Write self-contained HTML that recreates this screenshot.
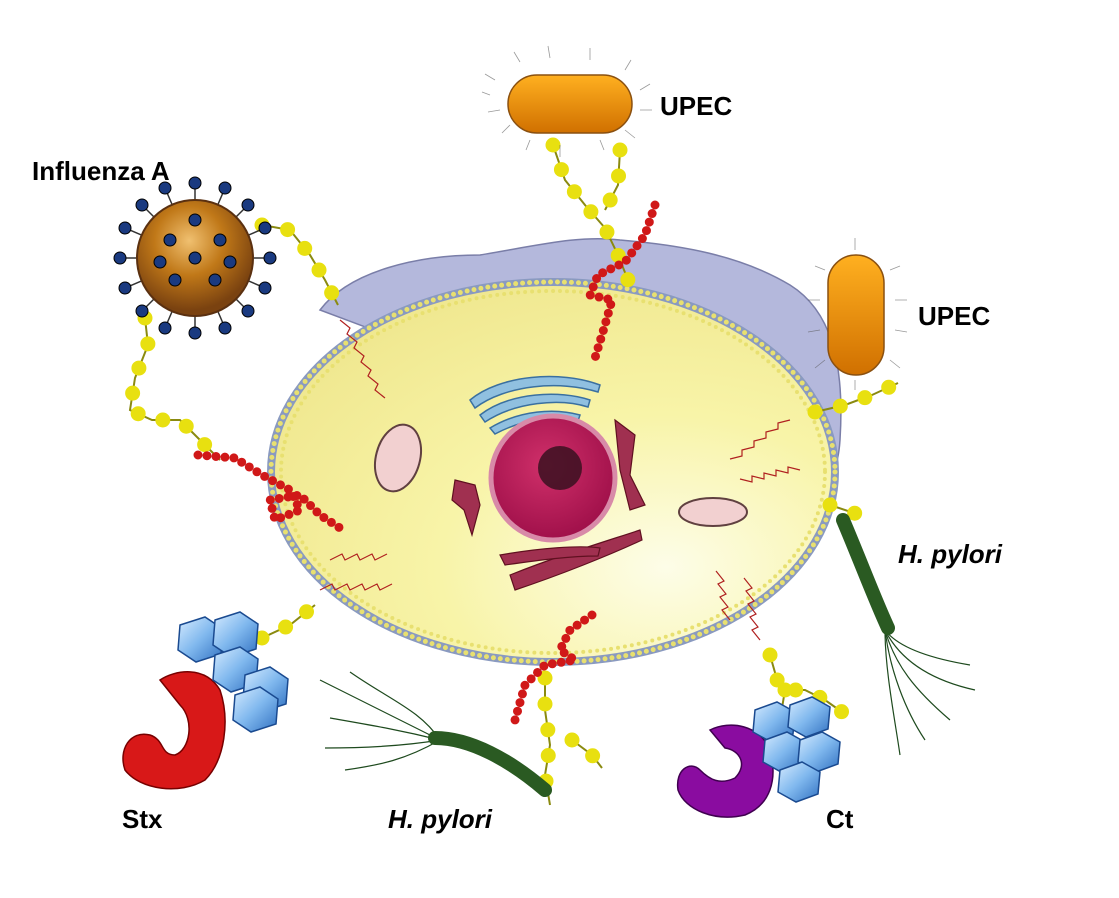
<!DOCTYPE html>
<html><head><meta charset="utf-8"><style>
html,body{margin:0;padding:0;background:#fff;}
svg{display:block}
text{font-family:"Liberation Sans",Arial,sans-serif;font-weight:bold;font-size:26px;fill:#000}
</style></head><body>
<svg width="1119" height="898" viewBox="0 0 1119 898" xmlns="http://www.w3.org/2000/svg">
<defs>
<radialGradient id="cyto" cx="0.7" cy="0.75" r="0.8"><stop offset="0" stop-color="#fdfde8"/><stop offset="0.5" stop-color="#f8f4a8"/><stop offset="1" stop-color="#f0e890"/></radialGradient>
<radialGradient id="nuc" cx="0.45" cy="0.4" r="0.6"><stop offset="0" stop-color="#d0306a"/><stop offset="1" stop-color="#a0104a"/></radialGradient>
<linearGradient id="upec" x1="0" y1="0" x2="0" y2="1"><stop offset="0" stop-color="#ffb020"/><stop offset="1" stop-color="#d07000"/></linearGradient>
<radialGradient id="vir" cx="0.45" cy="0.35" r="0.6"><stop offset="0" stop-color="#f0c070"/><stop offset="0.5" stop-color="#c07818"/><stop offset="1" stop-color="#7a4210"/></radialGradient>
<linearGradient id="blue" x1="0" y1="0" x2="1" y2="1"><stop offset="0" stop-color="#d8ecff"/><stop offset="0.5" stop-color="#80b8ee"/><stop offset="1" stop-color="#3070c0"/></linearGradient>
</defs>

<!-- blue upper cell region -->
<path d="M320,310 C350,270 420,255 480,255 C540,245 580,235 620,240 C680,245 740,255 790,285 C830,310 845,360 840,440 C838,470 830,480 820,470 L560,400 Z" fill="#b4b8dc" stroke="#7a7ea8" stroke-width="1.5"/>
<!-- cell body -->
<ellipse cx="553" cy="472" rx="282" ry="190" fill="url(#cyto)" stroke="#8a9ac0" stroke-width="8"/>
<ellipse cx="553" cy="472" rx="282" ry="190" fill="none" stroke="#e8e070" stroke-width="5" stroke-dasharray="0 7" stroke-linecap="round"/>
<ellipse cx="553" cy="472" rx="272" ry="181" fill="none" stroke="#e8e070" stroke-width="4" stroke-dasharray="0 7" stroke-linecap="round"/>

<!-- red zigzag receptors -->
<g stroke="#b02020" stroke-width="1.2" fill="none">
<path d="M340,320 l10,8 l-3,6 l10,8 l-3,6 l10,8 l-3,6 l10,8 l-3,6 l10,8 l-3,6 l10,8"/>
<path d="M320,590 l12,-6 l3,6 l12,-6 l3,6 l12,-6 l3,6 l12,-6 l3,6 l12,-6"/>
<path d="M330,560 l12,-6 l3,6 l12,-6 l3,6 l12,-6 l3,6 l12,-6"/>
<path d="M790,420 l-12,3 l0,6 l-12,3 l0,6 l-12,3 l0,6 l-12,3 l0,6 l-12,3"/>
<path d="M800,470 l-12,-3 l0,6 l-12,-3 l0,6 l-12,-3 l0,6 l-12,-3 l0,6 l-12,-3"/>
<path d="M760,640 l-8,-10 l6,-3 l-8,-10 l6,-3 l-8,-10 l6,-3 l-8,-10 l6,-3 l-8,-10"/>
<path d="M730,620 l-8,-10 l6,-3 l-8,-10 l6,-3 l-8,-10 l6,-3 l-8,-10"/>
</g>

<!-- golgi -->
<g fill="#90c0e0" stroke="#3a70a0" stroke-width="1.5">
<path d="M470,400 C500,375 560,370 600,385 L598,392 C560,380 505,385 475,408 Z"/>
<path d="M480,415 C510,392 560,390 590,400 L588,407 C560,398 515,402 485,422 Z"/>
<path d="M490,428 C520,410 555,408 580,415 L578,421 C555,416 525,418 495,434 Z"/>
</g>
<!-- nucleus -->
<circle cx="553" cy="478" r="62" fill="url(#nuc)" stroke="#d88aa8" stroke-width="5"/>
<circle cx="560" cy="468" r="22" fill="#3a1020" opacity="0.85"/>
<!-- ER -->
<g fill="#a03050" stroke="#601020" stroke-width="1.2">
<path d="M455,480 l20,5 l5,20 l-8,30 l-8,-25 l-12,-10 Z"/>
<path d="M615,420 l20,15 l-5,40 l15,30 l-15,5 l-10,-40 Z"/>
<path d="M510,575 C560,555 610,540 640,530 L642,540 C610,555 560,575 515,590 Z"/>
<path d="M500,555 C540,548 580,545 600,548 L598,556 C570,556 540,560 505,565 Z"/>
</g>
<!-- mitochondria -->
<ellipse cx="398" cy="458" rx="22" ry="34" transform="rotate(15 398 458)" fill="#f2d0d0" stroke="#604040" stroke-width="2"/>
<ellipse cx="713" cy="512" rx="34" ry="14" fill="#f2d0d0" stroke="#604040" stroke-width="2"/>

<!-- yellow chains -->
<g fill="none" stroke="#8a8a10" stroke-width="2">
<polyline id="c1" points="553,145 565,180 585,205 605,228 618,255 628,280"/>
<polyline points="620,150 618,185 605,210"/>
<polyline points="262,225 290,230 310,255 325,280 338,305"/>
<polyline points="145,318 148,345 135,378 130,410 152,420 180,420 200,440 220,460"/>
<polyline points="815,412 845,405 872,395 898,383"/>
<polyline points="830,505 860,515"/>
<polyline points="262,638 290,625 315,605"/>
<polyline points="545,678 545,710 550,745 545,775 550,805"/>
<polyline points="572,740 592,755 602,768"/>
<polyline points="770,655 780,690 805,690 825,700 842,712"/>
<polyline points="785,690 780,720"/>
</g>
<g fill="none" stroke="#e8e010" stroke-width="15" stroke-linecap="round" stroke-dasharray="0 26">
<polyline points="553,145 565,180 585,205 605,228 618,255 628,280"/>
<polyline points="620,150 618,185 605,210"/>
<polyline points="262,225 290,230 310,255 325,280 338,305"/>
<polyline points="145,318 148,345 135,378 130,410 152,420 180,420 200,440 220,460"/>
<polyline points="815,412 845,405 872,395 898,383"/>
<polyline points="830,505 860,515"/>
<polyline points="262,638 290,625 315,605"/>
<polyline points="545,678 545,710 550,745 545,775 550,805"/>
<polyline points="572,740 592,755 602,768"/>
<polyline points="770,655 780,690 805,690 825,700 842,712"/>
<polyline points="785,690 780,720"/>
</g>

<!-- red bead chains -->
<g fill="none" stroke="#d01818" stroke-width="9" stroke-linecap="round" stroke-dasharray="0 9">
<polyline points="655,205 645,235 625,262 598,275 590,295 612,300 605,325 595,358"/>
<polyline points="198,455 235,458 262,475 290,490 300,510 275,520 270,500 300,495 320,515 340,528"/>
<polyline points="592,615 570,630 560,650 575,660 545,665 525,685 515,720"/>
</g>

<!-- UPEC top -->
<g stroke="#555" stroke-width="0.8" fill="none" opacity="0.6">
<path d="M490,95 l-8,-3 M495,80 l-10,-6 M500,110 l-12,2 M510,125 l-8,8 M530,140 l-4,10 M560,145 l0,12 M600,140 l4,10 M625,130 l10,8 M640,110 l12,0 M640,90 l10,-6 M625,70 l6,-10 M590,60 l0,-12 M550,58 l-2,-12 M520,62 l-6,-10"/>
</g>
<rect x="508" y="75" width="124" height="58" rx="29" fill="url(#upec)" stroke="#8a5010" stroke-width="1.5"/>
<!-- UPEC right -->
<g stroke="#555" stroke-width="0.8" fill="none" opacity="0.6">
<path d="M825,270 l-10,-4 M820,300 l-12,0 M820,330 l-12,2 M825,360 l-10,8 M890,270 l10,-4 M895,300 l12,0 M895,330 l12,2 M890,360 l10,8 M855,250 l0,-12 M855,380 l0,10"/>
</g>
<rect x="828" y="255" width="56" height="120" rx="28" fill="url(#upec)" stroke="#8a5010" stroke-width="1.5"/>

<!-- Influenza virus -->
<g stroke="#333" stroke-width="1.5">
<line x1="120" y1="258" x2="270" y2="258"/><line x1="195" y1="183" x2="195" y2="333"/>
<line x1="142" y1="205" x2="248" y2="311"/><line x1="248" y1="205" x2="142" y2="311"/>
<line x1="125" y1="228" x2="265" y2="288"/><line x1="125" y1="288" x2="265" y2="228"/>
<line x1="165" y1="188" x2="225" y2="328"/><line x1="225" y1="188" x2="165" y2="328"/>
</g>
<circle cx="195" cy="258" r="58" fill="url(#vir)" stroke="#5a3010" stroke-width="2"/>
<g fill="#1a3a80" stroke="#000" stroke-width="1">
<circle cx="120" cy="258" r="6"/><circle cx="270" cy="258" r="6"/><circle cx="195" cy="183" r="6"/><circle cx="195" cy="333" r="6"/>
<circle cx="142" cy="205" r="6"/><circle cx="248" cy="311" r="6"/><circle cx="248" cy="205" r="6"/><circle cx="142" cy="311" r="6"/>
<circle cx="125" cy="228" r="6"/><circle cx="265" cy="288" r="6"/><circle cx="125" cy="288" r="6"/><circle cx="265" cy="228" r="6"/>
<circle cx="165" cy="188" r="6"/><circle cx="225" cy="328" r="6"/><circle cx="225" cy="188" r="6"/><circle cx="165" cy="328" r="6"/>
<circle cx="195" cy="258" r="6"/><circle cx="170" cy="240" r="6"/><circle cx="220" cy="240" r="6"/><circle cx="175" cy="280" r="6"/><circle cx="215" cy="280" r="6"/><circle cx="195" cy="220" r="6"/><circle cx="160" cy="262" r="6"/><circle cx="230" cy="262" r="6"/>
</g>

<!-- Stx toxin -->
<path d="M160,680 C175,670 205,665 220,690 C230,720 225,760 205,780 C180,795 140,790 125,770 C118,750 130,730 150,735 C165,740 160,755 175,755 C190,750 195,720 180,705 Z" fill="#d81818" stroke="#700" stroke-width="1.5"/>
<g fill="url(#blue)" stroke="#1a4a90" stroke-width="1.5">
<path d="M180,625 l25,-8 l18,12 l-2,25 l-25,8 l-18,-12 Z"/>
<path d="M215,620 l25,-8 l18,12 l-2,25 l-25,8 l-18,-12 Z"/>
<path d="M215,655 l25,-8 l18,12 l-2,25 l-25,8 l-18,-12 Z"/>
<path d="M245,675 l25,-8 l18,12 l-2,25 l-25,8 l-18,-12 Z"/>
<path d="M235,695 l25,-8 l18,12 l-2,25 l-25,8 l-18,-12 Z"/>
</g>
<!-- Ct toxin -->
<path d="M710,730 C730,720 760,725 770,750 C778,780 770,805 745,815 C715,822 685,810 678,790 C675,770 690,760 700,770 C710,780 720,785 735,778 C748,765 740,750 725,748 Z" fill="#8a0ca0" stroke="#400050" stroke-width="1.5"/>
<g fill="url(#blue)" stroke="#1a4a90" stroke-width="1.5">
<path d="M755,710 l22,-8 l18,10 l-2,22 l-22,8 l-18,-10 Z"/>
<path d="M790,705 l22,-8 l18,10 l-2,22 l-22,8 l-18,-10 Z"/>
<path d="M765,740 l22,-8 l18,10 l-2,22 l-22,8 l-18,-10 Z"/>
<path d="M800,740 l22,-8 l18,10 l-2,22 l-22,8 l-18,-10 Z"/>
<path d="M780,770 l22,-8 l18,10 l-2,22 l-22,8 l-18,-10 Z"/>
</g>

<!-- H. pylori bottom -->
<g stroke="#1e4a1e" stroke-width="1.2" fill="none">
<path d="M440,740 C400,720 360,700 320,680"/><path d="M440,740 C400,730 370,725 330,718"/>
<path d="M440,740 C410,745 370,748 325,748"/><path d="M440,740 C420,710 390,700 350,672"/>
<path d="M440,740 C405,760 380,765 345,770"/>
</g>
<path d="M435,738 C470,738 510,760 545,790" stroke="#2a5a22" stroke-width="14" stroke-linecap="round" fill="none"/>
<!-- H. pylori right -->
<g stroke="#1e4a1e" stroke-width="1.2" fill="none">
<path d="M885,630 C900,660 930,680 975,690"/><path d="M885,630 C895,665 915,690 950,720"/>
<path d="M885,630 C890,670 905,710 925,740"/><path d="M885,630 C885,670 895,720 900,755"/>
<path d="M885,630 C900,650 940,660 970,665"/>
</g>
<path d="M843,520 C860,560 875,600 888,628" stroke="#2a5a22" stroke-width="14" stroke-linecap="round" fill="none"/>

<!-- labels -->
<text x="660" y="115">UPEC</text>
<text x="918" y="325">UPEC</text>
<text x="32" y="180">Influenza A</text>
<text x="898" y="563" font-style="italic">H. pylori</text>
<text x="122" y="828">Stx</text>
<text x="388" y="828" font-style="italic">H. pylori</text>
<text x="826" y="828">Ct</text>
</svg>
</body></html>
